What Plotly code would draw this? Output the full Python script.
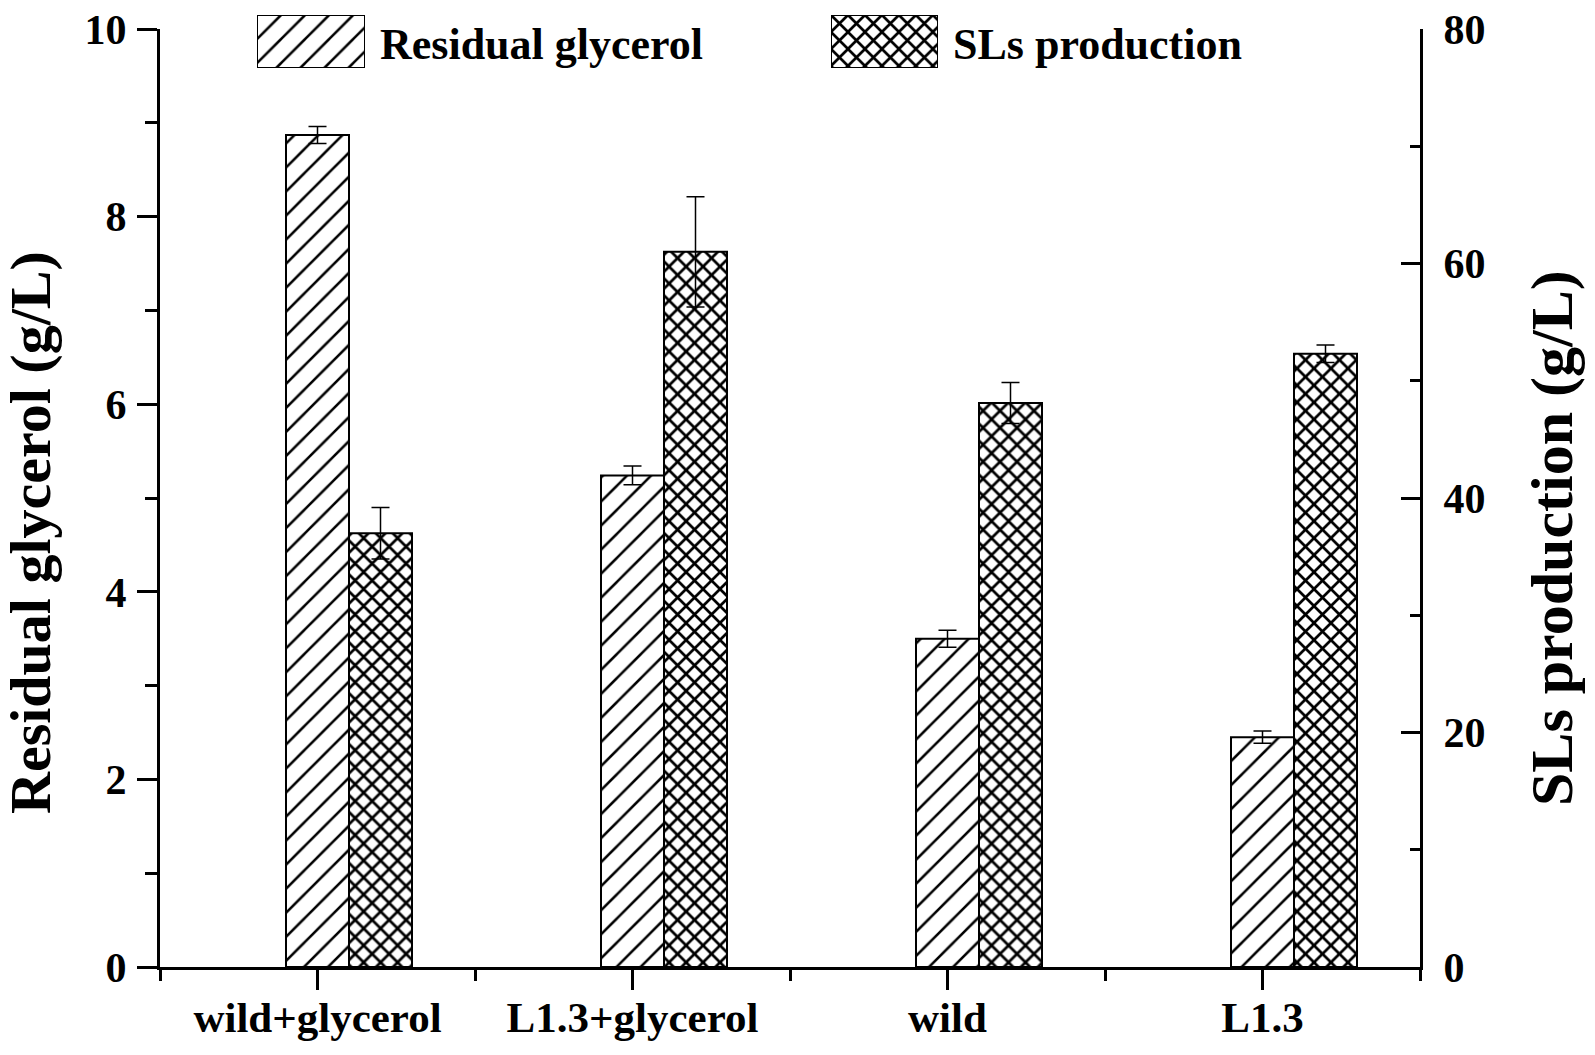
import plotly.graph_objects as go

categories = ["wild+glycerol", "L1.3+glycerol", "wild", "L1.3"]
residual_glycerol = [8.87, 5.24, 3.50, 2.45]
residual_glycerol_err = [0.09, 0.10, 0.09, 0.065]
sls_production = [37.0, 61.0, 48.1, 52.3]
sls_production_err = [2.2, 4.7, 1.75, 0.75]
series_names = ["Residual glycerol", "SLs production"]
left_title = "Residual glycerol (g/L)"
right_title = "SLs production (g/L)"
left_ticks = [0, 2, 4, 6, 8, 10]
right_ticks = [0, 20, 40, 60, 80]

FONT = "Liberation Serif"
OFF = 8                      # default page body margin
W, H = 1595 - 2 * OFF, 1055 - 2 * OFF
# data-area edges in page pixels
P_LEFT, P_RIGHT, P_TOP, P_BOTTOM = 160, 1420, 29, 967
ML = P_LEFT - OFF
MR = W - (P_RIGHT - OFF)
MB = H - (P_BOTTOM - OFF)
MT = 2

pw = W - ML - MR
ph = H - MT - MB


def xp(px):
    """page px -> paper x"""
    return (px - OFF - ML) / pw


def yp(py):
    """page px -> paper y"""
    return (H - MB - (py - OFF)) / ph


xpos = list(range(len(categories)))
line_black = dict(color="black", width=2)
pat_hatch = dict(shape="/", fgcolor="black", bgcolor="white", fgopacity=1, size=17, solidity=0.15)
pat_cross = dict(shape="x", fgcolor="black", bgcolor="white", fgopacity=1, size=12, solidity=0.4)

fig = go.Figure()
fig.add_trace(go.Bar(
    x=xpos, y=residual_glycerol, name=series_names[0],
    width=0.2, offset=-0.1,
    marker=dict(color="white", line=line_black, pattern=pat_hatch),
    error_y=dict(type="data", array=residual_glycerol_err, color="black", thickness=1.5, width=9),
    xaxis="x", yaxis="y", showlegend=False,
))
fig.add_trace(go.Bar(
    x=xpos, y=sls_production, name=series_names[1],
    width=0.2, offset=0.1,
    marker=dict(color="white", line=line_black, pattern=pat_cross),
    error_y=dict(type="data", array=sls_production_err, color="black", thickness=1.5, width=9),
    xaxis="x", yaxis="y2", showlegend=False,
))

# Legend: large patterned swatches like the original
legend_boxes = [(257, 365), (831, 938)]
legend_text_x = [378, 951]
legend_y = (15, 68)
for i, (name, (x0, x1), pat) in enumerate(zip(series_names, legend_boxes, [pat_hatch, pat_cross])):
    fig.add_trace(go.Bar(
        x=[0], y=[1], width=1, name=name, showlegend=False, hoverinfo="skip",
        marker=dict(color="white", line=line_black, pattern=pat),
        xaxis=f"x{i + 3}", yaxis=f"y{i + 3}",
    ))
    fig.layout[f"xaxis{i + 3}"] = dict(domain=[xp(x0), xp(x1)], range=[-0.5, 0.5],
                                       visible=False, anchor=f"y{i + 3}", fixedrange=True)
    fig.layout[f"yaxis{i + 3}"] = dict(domain=[yp(legend_y[1]), yp(legend_y[0])],
                                       range=[0, 1], visible=False, anchor=f"x{i + 3}", fixedrange=True)
    fig.add_annotation(text=name, xref="paper", yref="paper",
                       x=xp(legend_text_x[i]), y=yp(44),
                       xanchor="left", yanchor="middle", showarrow=False,
                       font=dict(family=FONT, size=44, color="black", weight="bold"))

# Axis titles
fig.add_annotation(text=left_title, xref="paper", yref="paper", x=xp(31), y=yp(533),
                   xanchor="center", yanchor="middle", textangle=-90, showarrow=False,
                   font=dict(family=FONT, size=58, color="black", weight="bold"))
fig.add_annotation(text=right_title, xref="paper", yref="paper", x=xp(1552), y=yp(538),
                   xanchor="center", yanchor="middle", textangle=-90, showarrow=False,
                   font=dict(family=FONT, size=60, color="black", weight="bold"))

tick_font = dict(family=FONT, size=42, color="black", weight="bold")

fig.update_layout(
    width=W, height=H,
    margin=dict(l=ML, r=MR, t=MT, b=MB, autoexpand=False),
    paper_bgcolor="white", plot_bgcolor="white",
    barmode="overlay",
    font=dict(family=FONT, color="black"),
    xaxis=dict(
        domain=[0, 1], anchor="y", range=[-0.5, 3.5],
        tickmode="array", tickvals=xpos, ticktext=categories,
        ticks="outside", ticklen=20, tickwidth=3, tickcolor="black",
        minor=dict(ticks="outside", tick0=-0.5, dtick=1, ticklen=11, tickwidth=3, tickcolor="black"),
        showline=True, linewidth=3, linecolor="black", showgrid=False, zeroline=False,
        tickfont=dict(family=FONT, size=43, color="black", weight="bold"),
        ticklabelstandoff=-10,
        fixedrange=True,
    ),
    yaxis=dict(
        domain=[0, yp(P_TOP)], anchor="x", range=[0, 10],
        tickmode="array", tickvals=left_ticks,
        ticks="outside", ticklen=20, tickwidth=3, tickcolor="black",
        minor=dict(ticks="outside", tick0=0, dtick=1, ticklen=12, tickwidth=3, tickcolor="black"),
        showline=True, linewidth=3, linecolor="black", showgrid=False, zeroline=False,
        tickfont=tick_font, ticklabelstandoff=2, ticklabeloverflow="allow",
        fixedrange=True,
    ),
    yaxis2=dict(
        domain=[0, yp(P_TOP)], anchor="x", overlaying="y", side="right",
        range=[0, 80], tickmode="array", tickvals=right_ticks,
        ticks="inside", ticklen=19, tickwidth=3, tickcolor="black",
        minor=dict(ticks="inside", tick0=0, dtick=10, ticklen=10, tickwidth=3, tickcolor="black"),
        showline=True, linewidth=3, linecolor="black", showgrid=False, zeroline=False,
        tickfont=tick_font, ticklabelstandoff=12, ticklabeloverflow="allow",
        fixedrange=True,
    ),
)

fig.write_html("out.html")
